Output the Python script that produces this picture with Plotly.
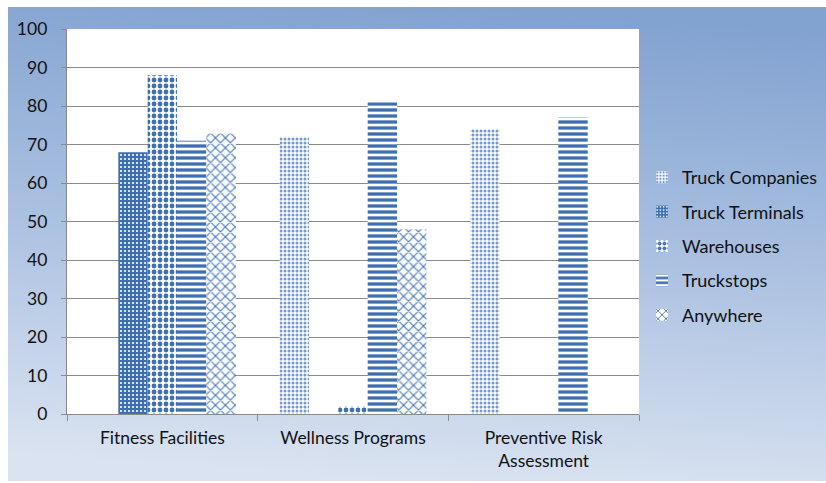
import urllib.parse
import plotly.graph_objects as go

# Survey results: share of respondents (%) by location type
categories = ["Fitness Facilities", "Wellness Programs", "Preventive Risk<br>Assessment"]
series_names = ["Truck Companies", "Truck Terminals", "Warehouses", "Truckstops", "Anywhere"]
truck_companies = [None, 72, 74]
truck_terminals = [68, None, None]
warehouses = [88, 2, None]
truckstops = [71, 81, 77]
anywhere = [73, 48, None]
y_ticks = list(range(0, 101, 10))

series_values = [truck_companies, truck_terminals, warehouses, truckstops, anywhere]

# fill patterns for each series
patterns = [
    dict(shape=".", fgcolor="#7499cc", bgcolor="#ffffff", size=4, solidity=0.45, fillmode="replace"),
    dict(shape=".", fgcolor="#ffffff", bgcolor="#3e6fb1", size=4, solidity=0.22, fillmode="replace"),
    dict(shape=".", fgcolor="#3e6fb1", bgcolor="#ffffff", size=6, solidity=0.5, fillmode="replace"),
    dict(shape="-", fgcolor="#3e6fb1", bgcolor="#ffffff", size=6, solidity=0.55, fillmode="replace"),
    dict(shape="x", fgcolor="#4677b9", bgcolor="#ffffff", size=7, solidity=0.3, fillmode="replace"),
]

FONT = "Lato, Carlito, Calibri, sans-serif"

fig = go.Figure()
for name, vals, pat in zip(series_names, series_values, patterns):
    fig.add_trace(go.Bar(
        name=name,
        x=categories,
        y=vals,
        legendgroup=name,
        marker=dict(color="#ffffff", pattern=pat, line=dict(width=0)),
    ))

W, H = 826, 483
L, R, T, B = 67, 187, 29, 69
pw, ph = W - L - R, H - T - B

# gradient backdrop with a white plotting area, as an inline SVG
bx0, bx1, by0, by1 = 8, 826, 7, 481
bw, bh = bx1 - bx0, by1 - by0
svg = (
    f"<svg xmlns='http://www.w3.org/2000/svg' width='{bw}' height='{bh}' "
    f"viewBox='0 0 {bw} {bh}' preserveAspectRatio='none'>"
    "<defs><linearGradient id='g' x1='0.56' y1='0' x2='0.44' y2='1'>"
    "<stop offset='0' stop-color='#82a2d0'/>"
    "<stop offset='0.5' stop-color='#abc1e1'/>"
    "<stop offset='1' stop-color='#dae3f1'/>"
    "</linearGradient></defs>"
    f"<rect width='{bw}' height='{bh}' fill='url(#g)'/>"
    f"<rect x='{L - bx0}' y='{T - by0}' width='{pw}' height='{ph}' fill='#ffffff'/>"
    "</svg>"
)
src = "data:image/svg+xml;charset=utf-8," + urllib.parse.quote(svg)

fig.add_layout_image(dict(
    source=src, xref="paper", yref="paper",
    x=(bx0 - L) / pw, y=(H - B - by0) / ph,
    sizex=bw / pw, sizey=bh / ph,
    xanchor="left", yanchor="top", sizing="stretch", layer="below",
))

fig.update_layout(
    width=W, height=H,
    margin=dict(l=L, r=R, t=T, b=B, autoexpand=False),
    paper_bgcolor="#ffffff",
    plot_bgcolor="#ffffff",
    barmode="group",
    bargap=0.23,
    bargroupgap=0,
    font=dict(family=FONT, size=17.5, color="#111111"),
    legend=dict(
        xref="container", yref="container",
        x=642 / W, xanchor="left", y=1 - 246 / H, yanchor="middle",
        bgcolor="rgba(0,0,0,0)", font=dict(size=18, color="#111111"),
        tracegroupgap=8, itemwidth=30,
    ),
    showlegend=True,
)

fig.update_yaxes(
    range=[0, 100], tickvals=y_ticks, showgrid=True, gridcolor="#8a8a8a", gridwidth=1.4,
    showline=True, linecolor="#8a8a8a", linewidth=1.4,
    ticks="outside", ticklen=5, tickcolor="#8a8a8a", tickwidth=1.4,
    ticklabelstandoff=10, zeroline=False, fixedrange=True,
)
fig.update_xaxes(
    showline=True, linecolor="#8a8a8a", linewidth=1.4,
    ticks="outside", tickson="boundaries", ticklen=6, tickcolor="#8a8a8a", tickwidth=1.4,
    ticklabelstandoff=8, showgrid=False,
)

fig.write_html("out.html")
